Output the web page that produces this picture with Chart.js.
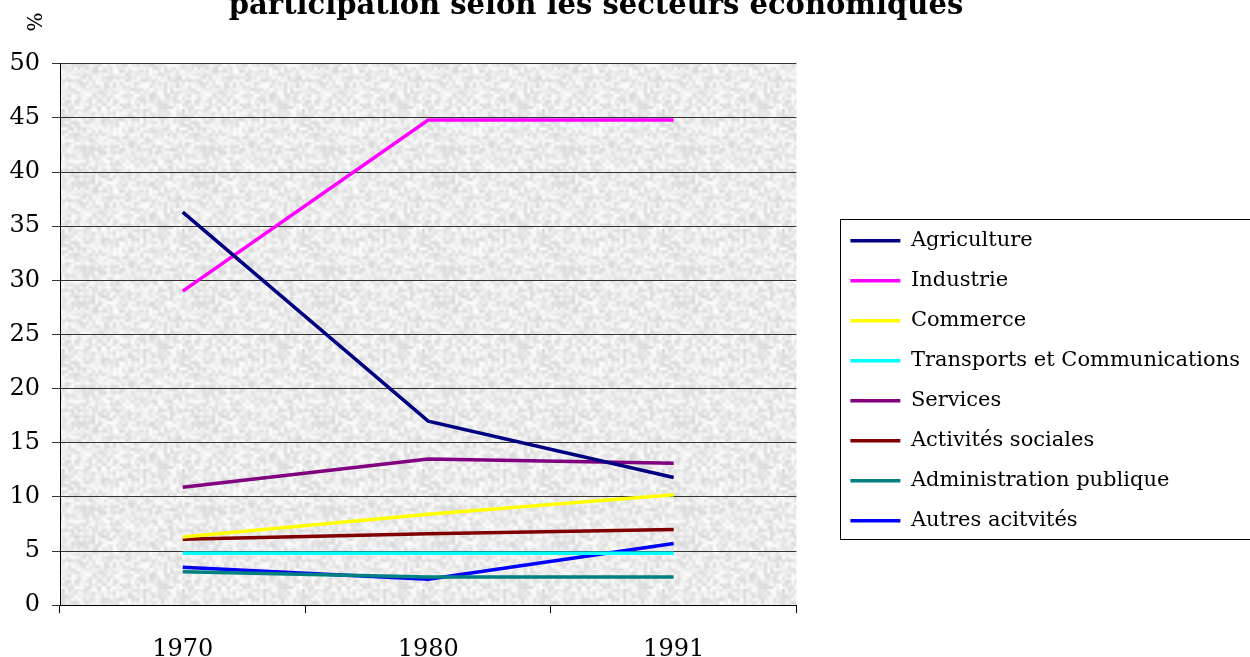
<!DOCTYPE html>
<html>
<head>
<meta charset="utf-8">
<script src="https://cdn.jsdelivr.net/npm/chart.js@4"></script>
<style>
  html, body { margin: 0; padding: 0; background: #fff; overflow: hidden; }
  #wrap { position: relative; width: 1250px; height: 657px; overflow: hidden; }
  #wrap canvas { position: absolute; left: -58px; top: -11px; }
</style>
</head>
<body>
<div id="wrap"><canvas id="chart" width="1308" height="697"></canvas></div>
<script>
const years = ['1970', '1980', '1991'];
const agriculture = [36.3, 17.0, 11.8];
const industrie = [29.0, 44.8, 44.8];
const commerce = [6.3, 8.4, 10.2];
const transports = [4.8, 4.8, 4.8];
const services = [10.9, 13.5, 13.1];
const activitesSociales = [6.1, 6.6, 7.0];
const administration = [3.1, 2.6, 2.6];
const autres = [3.5, 2.4, 5.7];

const serif = 'DejaVu Serif';

// granite-like grey texture for the plot area
function makeTexture() {
    const small = document.createElement('canvas');
    small.width = 40; small.height = 40;
    const sctx = small.getContext('2d');
    const img = sctx.createImageData(40, 40);
    for (let y = 0; y < 40; y++) {
        for (let x = 0; x < 40; x++) {
            let h = Math.sin(x * 12.9898 + y * 78.233) * 43758.5453;
            h = h - Math.floor(h);
            const v = Math.round(216 + h * 38);
            const i = (y * 40 + x) * 4;
            img.data[i] = v; img.data[i + 1] = v; img.data[i + 2] = v; img.data[i + 3] = 255;
        }
    }
    sctx.putImageData(img, 0, 0);
    const big = document.createElement('canvas');
    big.width = 120; big.height = 120;
    const bctx = big.getContext('2d');
    bctx.imageSmoothingEnabled = true;
    bctx.drawImage(small, 0, 0, 120, 120);
    return big;
}
const texture = makeTexture();

const plotBackground = {
    id: 'plotBackground',
    beforeDraw(chart) {
        const {ctx, chartArea} = chart;
        ctx.save();
        ctx.fillStyle = ctx.createPattern(texture, 'repeat');
        ctx.fillRect(chartArea.left, chartArea.top, chartArea.right - chartArea.left, chartArea.bottom - chartArea.top);
        ctx.restore();
    }
};

const extras = {
    id: 'extras',
    afterDraw(chart) {
        const ctx = chart.ctx;
        ctx.save();
        // unit label above the value axis
        ctx.translate(chart.chartArea.left - 23, 33);
        ctx.rotate(-Math.PI / 2);
        ctx.font = '20px "' + serif + '"';
        ctx.fillStyle = '#000';
        ctx.textAlign = 'center';
        ctx.textBaseline = 'middle';
        ctx.fillText('%', 0, 0);
        ctx.restore();
        // legend frame
        const boxes = chart.legend.legendHitBoxes;
        if (boxes && boxes.length) {
            const first = boxes[0], last = boxes[boxes.length - 1];
            const top = Math.round(first.top - 11);
            const bottom = Math.round(last.top + last.height + 8);
            ctx.save();
            ctx.strokeStyle = '#000';
            ctx.lineWidth = 1;
            ctx.strokeRect(Math.round(first.left - 10) + 0.5, top + 0.5, 1300, bottom - top);
            ctx.restore();
        }
    }
};

const mk = (label, data, color) => ({
    label: label,
    data: data,
    borderColor: color,
    backgroundColor: color,
    borderWidth: 3.5,
    pointRadius: 0,
    tension: 0
});

new Chart(document.getElementById('chart'), {
    type: 'line',
    data: {
        labels: years,
        datasets: [
            mk('Agriculture', agriculture, '#000080'),
            mk('Industrie', industrie, '#FF00FF'),
            mk('Commerce', commerce, '#FFFF00'),
            mk('Transports et Communications', transports, '#00FFFF'),
            mk('Services', services, '#800080'),
            mk('Activités sociales', activitesSociales, '#800000'),
            mk('Administration publique', administration, '#008080'),
            mk('Autres acitvités', autres, '#0000FF')
        ]
    },
    options: {
        responsive: false,
        animation: false,
        layout: { padding: 0 },
        plugins: {
            title: {
                display: true,
                text: 'participation selon les secteurs économiques',
                color: '#000',
                font: { family: serif, size: 29, weight: 'bold' },
                padding: { top: 0, bottom: 40 }
            },
            legend: {
                position: 'right',
                maxWidth: 440,
                title: { display: true, text: '', padding: { top: 72, bottom: 0 } },
                labels: {
                    color: '#000',
                    font: { family: serif, size: 21 },
                    usePointStyle: true,
                    pointStyle: 'line',
                    pointStyleWidth: 50,
                    boxHeight: 21,
                    padding: 19
                }
            },
            tooltip: { enabled: false }
        },
        scales: {
            x: {
                offset: true,
                grid: { display: true, drawOnChartArea: false, offset: true, tickLength: 8, color: '#000' },
                border: { display: true, color: '#000' },
                ticks: { color: '#000', font: { family: serif, size: 24 }, padding: 22 }
            },
            y: {
                min: 0,
                max: 50,
                grid: { color: '#333', tickLength: 8 },
                border: { display: true, color: '#000' },
                ticks: { stepSize: 5, color: '#000', font: { family: serif, size: 24 }, padding: 12 },
                afterFit(scale) { scale.width = 118; }
            },
            y2: {
                position: 'right',
                display: true,
                grid: { display: false },
                border: { display: false },
                ticks: { display: false },
                afterFit(scale) { scale.width = 35; }
            }
        }
    },
    plugins: [plotBackground, extras]
});
</script>
</body>
</html>
